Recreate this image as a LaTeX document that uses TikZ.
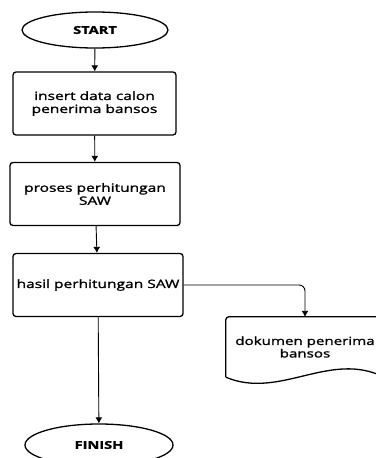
\documentclass[tikz,border=0pt]{standalone}
\usepackage{fontspec}
\setmainfont[FakeStretch=1.35,FakeBold=1.5]{Open Sans}
\usetikzlibrary{arrows.meta,shapes.geometric}
\begin{document}
\begin{tikzpicture}[x=1pt,y=-1pt,
  every node/.style={font=\fontsize{11.5}{13}\selectfont, align=center},
  term/.style={draw, ellipse, line width=1.3pt, minimum width=146pt, minimum height=36pt, font=\fontsize{10.8}{13}\selectfont\bfseries},
  proc/.style={draw, rectangle, rounded corners=3pt, line width=1.3pt, minimum width=168pt, minimum height=63pt, inner sep=1pt},
  flow/.style={-{Latex[length=6pt,width=7pt]}, line width=0.9pt}]
  \useasboundingbox (0,0) rectangle (375,458);
  \node[term] (start) at (95,30) {START};
  \node[proc, minimum width=163pt] (insert) at (94.5,103.5) {insert data calon\\penerima bansos};
  \node[proc, minimum width=170pt] (proses) at (95,194) {proses perhitungan\\SAW};
  \node[proc, minimum width=170pt] (hasil) at (98,285) {hasil perhitungan SAW};
  \node[minimum width=158pt, minimum height=60pt, inner sep=0pt, font=\fontsize{11.2}{12.5}\selectfont] (doc) at (305,347) {dokumen penerima\\bansos};
  \node[term, minimum width=148pt, minimum height=42pt] (finish) at (99,445) {FINISH};
  \draw[line width=1.3pt, rounded corners=3pt] (doc.south west) -- (doc.north west) -- (doc.north east) -- (doc.south east);
  \draw[line width=1.3pt] (doc.south west) .. controls (280,400) and (330,350) .. (doc.south east);
  \draw[flow] (start) -- (insert);
  \draw[flow] (insert) -- (proses);
  \draw[flow] (proses) -- (hasil);
  \draw[flow] (hasil) -- (finish);
  \draw[flow, rounded corners=6pt] (hasil.east) -| (doc.north);
\end{tikzpicture}
\end{document}
